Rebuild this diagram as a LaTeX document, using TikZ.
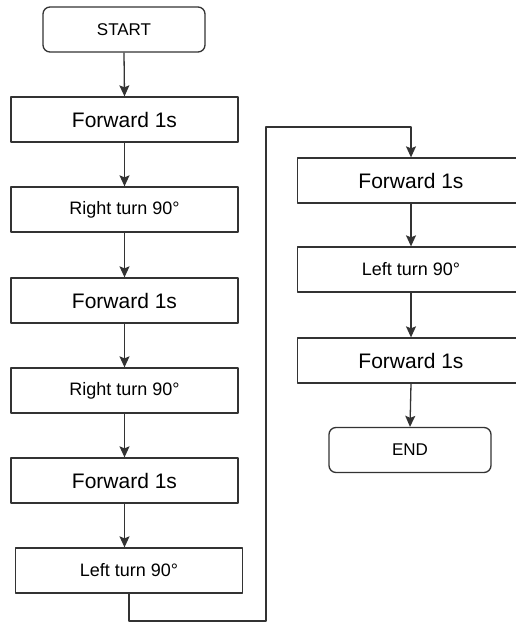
\documentclass[tikz,border=0pt]{standalone}
\usepackage{fontspec}
\setmainfont{Liberation Sans}
\usetikzlibrary{arrows.meta}
\tikzset{
  stepbox/.style={draw=black!80, line width=1.3pt, minimum width=227pt, minimum height=45pt, inner sep=0pt},
  termbox/.style={stepbox, rounded corners=7pt, minimum width=162pt},
  flow/.style={draw=black!80, line width=1.3pt, -{Stealth[length=11pt,width=10pt,inset=2pt]}}
}
\begin{document}
\begin{tikzpicture}[x=1pt, y=-1pt, line join=round]
    \useasboundingbox[fill=white] (0,0) rectangle (515,624);
    \def\bigf{\fontsize{21}{24}\selectfont}
    \def\midf{\fontsize{18}{21}\selectfont}
    % left column
    \node[termbox] (start) at (124,29.5) {\fontsize{17}{20}\selectfont START};
    \node[stepbox] (fwda) at (124.5,119.5) {\bigf Forward 1s};
    \node[stepbox] (righta) at (124.5,209.5) {\midf Right turn 90°};
    \node[stepbox] (fwdb) at (124.5,300.5) {\bigf Forward 1s};
    \node[stepbox] (rightb) at (124.5,390.5) {\midf Right turn 90°};
    \node[stepbox] (fwdc) at (124.5,480.5) {\bigf Forward 1s};
    \node[stepbox] (lefta) at (129,570.5) {\midf Left turn 90°};
    % right column
    \node[stepbox] (fwdd) at (411,180.5) {\bigf Forward 1s};
    \node[stepbox] (leftb) at (411,269.5) {\midf Left turn 90°};
    \node[stepbox] (fwde) at (411,360.5) {\bigf Forward 1s};
    \node[termbox] (stop) at (410,450) {\fontsize{17}{20}\selectfont END};
    \foreach \a/\b in {start/fwda, fwda/righta, righta/fwdb, fwdb/rightb, rightb/fwdc, fwdd/leftb, leftb/fwde, fwde/stop}
        \draw[flow] (\a.south) -- (\b.north);
    \draw[flow] (fwdc.south) -- (fwdc.south |- lefta.north);
    \draw[flow] (lefta.south) -- (129,621) -- (266,621) -- (266,127) -- (411,127) -- (fwdd.north);
\end{tikzpicture}
\end{document}
